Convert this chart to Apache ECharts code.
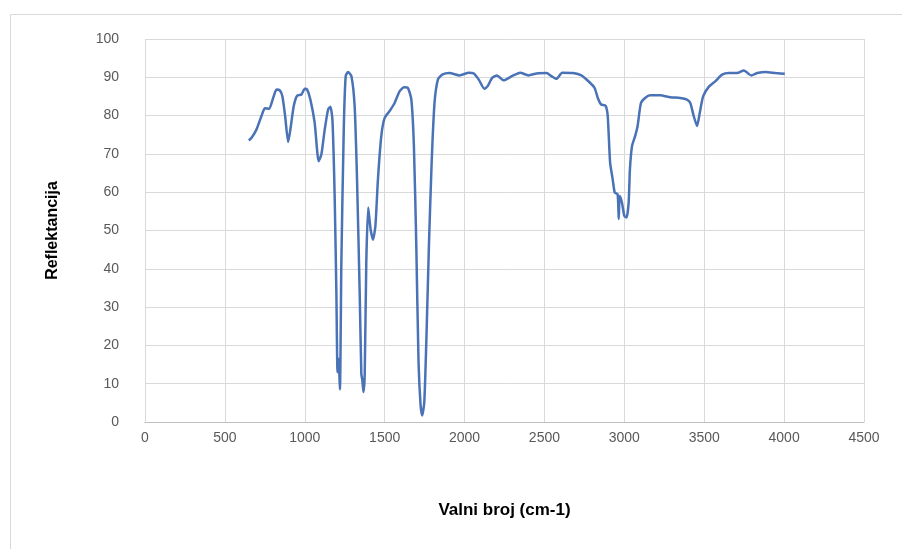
<!DOCTYPE html>
<html>
<head>
<meta charset="utf-8">
<script src="https://cdn.jsdelivr.net/npm/echarts@6/dist/echarts.min.js"></script>
<style>html,body{margin:0;padding:0;background:#fff}#c{width:902px;height:549px}</style>
</head>
<body>
<div id="c"></div>
<script>
const wavenumber = [650,667,698,729,750,777,802,823,844,860,877,896,910,931,952,979,1000,1015,1035,1062,1087,1104,1125,1146,1160,1173,1187,1198,1205,1212,1220,1229,1244,1256,1271,1292,1312,1327,1344,1354,1360,1367,1375,1385,1397,1412,1427,1442,1458,1479,1500,1531,1562,1594,1621,1646,1667,1683,1698,1712,1725,1735,1748,1760,1777,1794,1812,1833,1860,1906,1969,2027,2058,2089,2124,2145,2172,2203,2244,2296,2348,2400,2451,2513,2544,2575,2611,2679,2731,2782,2814,2834,2855,2882,2896,2911,2927,2940,2958,2965,2971,2985,3000,3014,3027,3035,3048,3068,3083,3104,3130,3161,3224,3287,3350,3392,3413,3434,3455,3472,3493,3528,3570,3612,3654,3706,3748,3794,3832,3884,3947,4004];
const reflectance = [73.5,74.2,76.4,79.9,81.9,81.8,84.6,86.8,86.6,85,79.9,73.1,76.4,82.5,85.2,85.5,87,86.8,84.2,78.1,68.1,69.9,76.4,81.6,82.3,79,59,33,13,16.5,8.5,41.7,76.4,90.3,91.4,90.3,82.5,63.4,33,12.5,11,7.8,12.2,41.7,56,50.3,47.6,51.2,63.4,74.7,79.4,81.2,83.3,86.4,87.4,87.2,84.2,72,46,15.6,4.3,1.7,5.2,20,46,67.7,83.3,89.4,90.7,91.1,90.5,91.2,91,89.4,87,87.7,89.8,90.5,89.2,90.3,91.2,90.5,91,91.1,90.3,89.6,91.2,91.1,90.5,88.7,87.2,84.6,82.9,82.6,79.9,67.7,63.4,59.9,59.5,53,59,57.3,53.8,53.4,57.3,66,72,74.7,77.3,83.3,84.6,85.3,85.3,84.8,84.6,84.2,83.3,79.9,77.3,80.7,85,87.5,89,90.7,91.1,91.1,91.8,90.5,91.1,91.4,91.1,90.9];
const xTicks = {min: 0, max: 4500, step: 500};
const yTicks = {min: 0, max: 100, step: 10};
const xTitle = 'Valni broj (cm-1)';
const yTitle = 'Reflektancija';

const points = wavenumber.map((w, i) => [w, reflectance[i]]);
const font = '"Liberation Sans", Arial, sans-serif';
const chart = echarts.init(document.getElementById('c'), null, {renderer: 'canvas'});
chart.setOption({
  animation: false,
  backgroundColor: '#fff',
  graphic: [{
    type: 'rect', left: 8, top: 12, shape: {width: 900, height: 545},
    style: {fill: 'none', stroke: '#d9d9d9', lineWidth: 1}, silent: true, z: -1
  }],
  grid: {left: 145, right: 38, top: 39, bottom: 127, containLabel: false},
  xAxis: {
    type: 'value', min: xTicks.min, max: xTicks.max, interval: xTicks.step,
    name: xTitle, nameLocation: 'middle', nameGap: 80,
    nameTextStyle: {fontFamily: font, fontSize: 17, fontWeight: 'bold', color: '#000'},
    axisLine: {show: true, lineStyle: {color: '#bfbfbf', width: 1}},
    axisTick: {show: false},
    axisLabel: {fontFamily: font, fontSize: 14, color: '#595959', margin: 9, formatter: v => String(v)},
    splitLine: {show: true, lineStyle: {color: '#d9d9d9', width: 1}}
  },
  yAxis: {
    type: 'value', min: yTicks.min, max: yTicks.max, interval: yTicks.step,
    name: yTitle, nameLocation: 'middle', nameGap: 84, nameRotate: 90,
    nameTextStyle: {fontFamily: font, fontSize: 16, fontWeight: 'bold', color: '#000'},
    axisLine: {show: false},
    axisTick: {show: false},
    axisLabel: {fontFamily: font, fontSize: 14, color: '#595959', margin: 26, formatter: v => String(v)},
    splitLine: {show: true, lineStyle: {color: '#d9d9d9', width: 1}}
  },
  series: [{
    type: 'line', data: points, showSymbol: false, smooth: 0.2,
    lineStyle: {color: '#4a72b6', width: 2.5}, itemStyle: {color: '#4a72b6'}
  }]
});
</script>
</body>
</html>
